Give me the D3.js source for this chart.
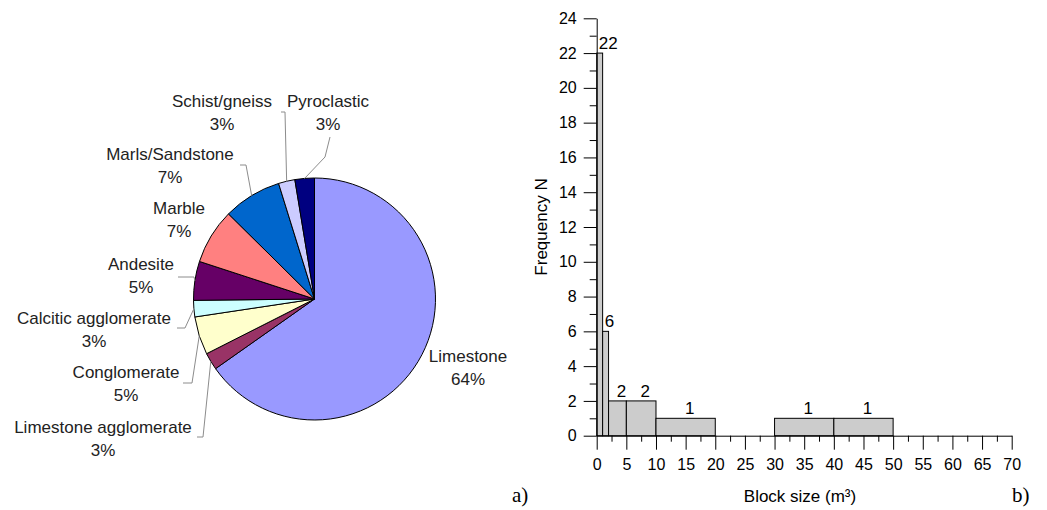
<!DOCTYPE html>
<html>
<head>
<meta charset="utf-8">
<script src="https://cdn.jsdelivr.net/npm/d3@7"></script>
<style>
  body { margin: 0; background: #fff; }
  svg { display: block; font-family: "Liberation Sans", Arial, sans-serif; }
</style>
</head>
<body>
<div id="chart"></div>
<script>
// pie data (clockwise from 12 o'clock)
const rockTypes = ["Limestone", "Limestone agglomerate", "Conglomerate", "Calcitic agglomerate",
  "Andesite", "Marble", "Marls/Sandstone", "Schist/gneiss", "Pyroclastic"];
const rockShare = [65.3, 2.3, 5.1, 2.2, 5.2, 7.4, 7.8, 2.2, 2.6];
const rockPctLabel = ["64%", "3%", "5%", "3%", "5%", "7%", "7%", "3%", "3%"];
const rockColors = ["#9999ff", "#993366", "#ffffcc", "#ccffff", "#660066", "#ff8080", "#0066cc", "#ccccff", "#000080"];

// histogram data
const binStart = [0, 1, 2, 5, 10, 30, 40];
const binEnd = [1, 2, 5, 10, 20, 40, 50];
const binCount = [22, 6, 2, 2, 1, 1, 1];
const xTickValues = [0, 5, 10, 15, 20, 25, 30, 35, 40, 45, 50, 55, 60, 65, 70];
const yTickValues = [0, 2, 4, 6, 8, 10, 12, 14, 16, 18, 20, 22, 24];

const width = 1047, height = 510;

const svg = d3.select('#chart').append('svg')
  .attr('width', width)
  .attr('height', height);

// ---------- a) pie ----------
const cx = 314.5, cy = 299, r = 121;

// label spots: [x, y of first line] and leader [start, elbow] (null = no leader)
const labelPos = [
  [468, 356], [103, 427], [126, 372], [94, 318], [141, 264],
  [179, 208], [170, 154], [222, 101], [328, 101]
];
const leaderPts = [
  null,
  [[197, 437], [203, 437]],
  [[183, 383], [192, 383]],
  [[177, 328], [185, 328]],
  [[178, 277], [194, 277]],
  null,
  [[240, 165], [246, 165]],
  [[281, 112], [285, 112]],
  [[330, 137], [325, 157]]
];

const pie = d3.pie().sort(null).value(d => d.v);
const arcs = pie(rockTypes.map((n, i) => ({ n, v: rockShare[i], i })));
const arc = d3.arc().innerRadius(0).outerRadius(r);

const gPie = svg.append('g').attr('transform', `translate(${cx},${cy})`);

gPie.selectAll('path')
  .data(arcs)
  .enter().append('path')
  .attr('d', arc)
  .attr('fill', d => rockColors[d.data.i])
  .attr('stroke', '#000')
  .attr('stroke-width', 1);

// leader lines
const line = d3.line();
arcs.forEach(d => {
  const pts = leaderPts[d.data.i];
  if (!pts) return;
  const mid = (d.startAngle + d.endAngle) / 2;
  const edge = [cx + r * Math.sin(mid), cy - r * Math.cos(mid)];
  svg.append('path')
    .attr('d', line([pts[0], pts[1], edge]))
    .attr('fill', 'none')
    .attr('stroke', '#8c8c8c')
    .attr('stroke-width', 1);
});

const pieText = svg.append('g')
  .selectAll('text')
  .data(rockTypes)
  .enter().append('text')
  .attr('text-anchor', 'middle')
  .attr('font-size', '17px')
  .attr('fill', '#222');

pieText.append('tspan')
  .attr('x', (d, i) => labelPos[i][0])
  .attr('y', (d, i) => labelPos[i][1] + 6)
  .text(d => d);
pieText.append('tspan')
  .attr('x', (d, i) => labelPos[i][0])
  .attr('y', (d, i) => labelPos[i][1] + 29)
  .text((d, i) => rockPctLabel[i]);

svg.append('text')
  .attr('x', 512).attr('y', 502)
  .attr('font-family', '"Liberation Serif", "Times New Roman", serif')
  .attr('font-size', '21px')
  .text('a)');

// ---------- b) histogram ----------
const x = d3.scaleLinear().domain([0, 70]).range([596.7, 1011.7]);
const y = d3.scaleLinear().domain([0, 24]).range([435.7, 18.3]);

const bars = binStart.map((s, i) => ({ s, e: binEnd[i], n: binCount[i] }));

svg.append('g')
  .selectAll('rect')
  .data(bars)
  .enter().append('rect')
  .attr('x', d => x(d.s))
  .attr('y', d => y(d.n))
  .attr('width', d => x(d.e) - x(d.s))
  .attr('height', d => y(0) - y(d.n))
  .attr('fill', '#cccccc')
  .attr('stroke', '#000')
  .attr('stroke-width', 1);

svg.append('g')
  .selectAll('text')
  .data(bars)
  .enter().append('text')
  .attr('x', d => (x(d.e) - x(d.s) < 15) ? x(d.s) + 2 : (x(d.s) + x(d.e)) / 2 + 4)
  .attr('y', d => y(d.n) - 4)
  .attr('text-anchor', d => (x(d.e) - x(d.s) < 15) ? 'start' : 'middle')
  .attr('font-size', '17px')
  .attr('fill', '#000')
  .text(d => d.n);

// minor ticks
svg.append('g')
  .attr('transform', `translate(0,${y(0)})`)
  .call(d3.axisBottom(x).tickValues(d3.range(2.5, 70, 5)).tickSize(6).tickSizeOuter(0).tickFormat(''))
  .call(g => g.select('.domain').remove());
svg.append('g')
  .attr('transform', `translate(${x(0)},0)`)
  .call(d3.axisLeft(y).tickValues(d3.range(1, 24, 2)).tickSize(7).tickSizeOuter(0).tickFormat(''))
  .call(g => g.select('.domain').remove());

// major axes
const xAxis = svg.append('g')
  .attr('transform', `translate(0,${y(0)})`)
  .call(d3.axisBottom(x).tickValues(xTickValues).tickSize(14).tickSizeOuter(0).tickPadding(9));
const yAxis = svg.append('g')
  .attr('transform', `translate(${x(0)},0)`)
  .call(d3.axisLeft(y).tickValues(yTickValues).tickSize(13).tickSizeOuter(0).tickPadding(7));

[xAxis, yAxis].forEach(g => {
  g.selectAll('text')
    .attr('font-size', '16px')
    .attr('font-family', '"Liberation Sans", Arial, sans-serif')
    .attr('fill', '#000');
  g.selectAll('line, path').attr('stroke', '#000');
});
svg.selectAll('.tick line').attr('stroke', '#000');

svg.append('text')
  .attr('transform', `translate(547,${(y(0) + y(24)) / 2}) rotate(-90)`)
  .attr('text-anchor', 'middle')
  .attr('font-size', '17px')
  .text('Frequency N');

svg.append('text')
  .attr('x', 800).attr('y', 502)
  .attr('text-anchor', 'middle')
  .attr('font-size', '17px')
  .text('Block size (m³)');

svg.append('text')
  .attr('x', 1012).attr('y', 502)
  .attr('font-family', '"Liberation Serif", "Times New Roman", serif')
  .attr('font-size', '21px')
  .text('b)');
</script>
</body>
</html>
